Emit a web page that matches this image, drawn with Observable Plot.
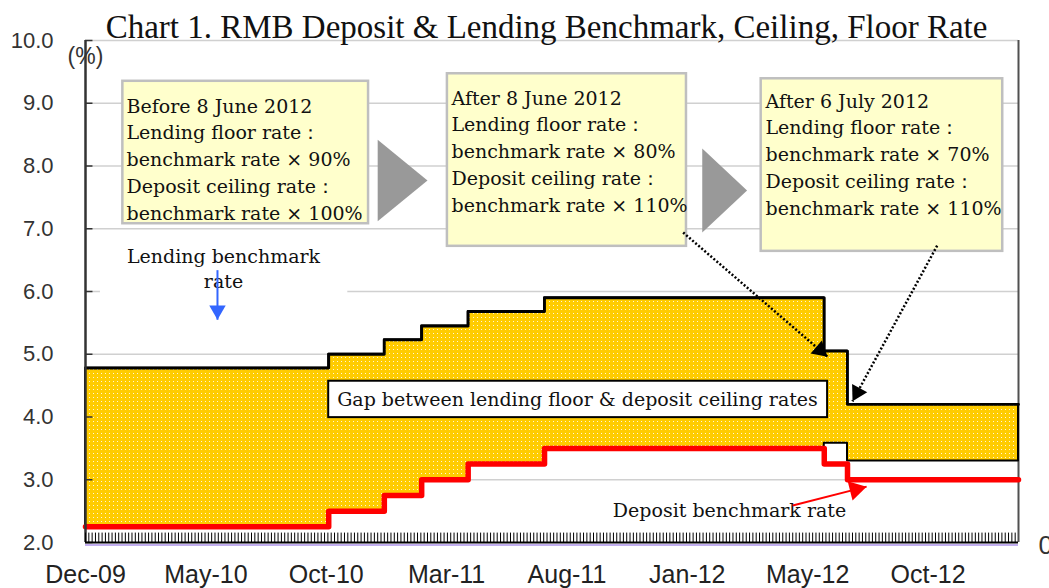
<!DOCTYPE html>
<html><head><meta charset="utf-8">
<script src="https://cdn.jsdelivr.net/npm/d3@7"></script>
<script src="https://cdn.jsdelivr.net/npm/@observablehq/plot@0.6"></script>
<style>
html,body{margin:0;padding:0;background:#fff;}
#chart svg{display:block;}
</style>
</head><body>
<div id="chart"></div>
<script>
// ---- Data (rate change dates, %)
const changeDates = ["2009-12-31","2010-10-20","2010-12-26","2011-02-09","2011-04-06","2011-07-07","2012-06-08","2012-07-06","2013-01-28"];
const lendingFloor = [4.78, 5.00, 5.23, 5.45, 5.68, 5.90, 5.05, 4.20, 4.20];
const depositCeiling = [2.25, 2.50, 2.75, 3.00, 3.25, 3.50, 3.58, 3.30, 3.30];
const depositBenchmark = [2.25, 2.50, 2.75, 3.00, 3.25, 3.50, 3.25, 3.00, 3.00];
const yTicks = [2, 3, 4, 5, 6, 7, 8, 9, 10];
const xTickLabels = ["Dec-09","May-10","Oct-10","Mar-11","Aug-11","Jan-12","May-12","Oct-12"];
const xTickDates = ["2009-12-31","2010-05-25","2010-10-17","2011-03-11","2011-08-03","2011-12-26","2012-05-19","2012-10-11"];

const start = new Date(changeDates[0]);
const end = new Date(changeDates[changeDates.length - 1]);
const rows = changeDates.map((d, i) => ({date: new Date(d), floor: lendingFloor[i], ceiling: depositCeiling[i], deposit: depositBenchmark[i]}));
const xLabelRows = xTickDates.map((d, i) => ({date: new Date(d), label: xTickLabels[i]}));
const minorTicks = d3.utcDay.range(start, end, 4);

// ---- Annotations (data coordinates)
const D = s => new Date(s);
const noteBoxes = [
  {x1: D("2010-02-14"), x2: D("2010-12-07"), y1: 7.08, y2: 9.35},
  {x1: D("2011-03-12"), x2: D("2011-12-25"), y1: 6.72, y2: 9.47},
  {x1: D("2012-03-24"), x2: D("2013-01-09"), y1: 6.64, y2: 9.39}
];
const lendBox = [{x1: D("2010-01-18"), x2: D("2010-11-12"), y1: 5.89, y2: 6.89}];
const gapBox = [{x1: D("2010-10-20"), x2: D("2012-06-12"), y1: 3.99, y2: 4.57}];
const chevrons = [
  {id: 1, x: D("2010-12-18"), y: 8.42}, {id: 1, x: D("2011-02-16"), y: 7.77}, {id: 1, x: D("2010-12-18"), y: 7.12},
  {id: 2, x: D("2012-01-13"), y: 8.28}, {id: 2, x: D("2012-03-07"), y: 7.61}, {id: 2, x: D("2012-01-13"), y: 6.94}
];
const dottedArrows = [
  {x1: D("2011-12-21"), y1: 6.94, x2: D("2012-06-12"), y2: 4.96},
  {x1: D("2012-10-22"), y1: 6.73, x2: D("2012-07-12"), y2: 4.25}
];
const redArrow = [{x1: D("2012-05-01"), y1: 2.59, x2: D("2012-07-29"), y2: 2.89}];
const blueArrow = [{x1: D("2010-06-08"), y1: 6.34, x2: D("2010-06-08"), y2: 5.55}];

const note1 = "Before 8 June 2012\nLending floor rate：\nbenchmark rate × 90%\nDeposit ceiling rate：\nbenchmark rate × 100%";
const note2 = "After 8 June 2012\nLending floor rate：\nbenchmark rate × 80%\nDeposit ceiling rate：\nbenchmark rate × 110%";
const note3 = "After 6 July 2012\nLending floor rate：\nbenchmark rate × 70%\nDeposit ceiling rate：\nbenchmark rate × 110%";

const serif = "DejaVu Serif";
const T = (str, o) => Plot.text([str], {text: d => d, frameAnchor: "top-left", fontFamily: serif, fontSize: 19, fill: "#111", ...o});
const head = (arr, o) => Plot.dot(arr, {x: "x2", y: "y2", symbol: "triangle", stroke: "none", ...o});

const chart = Plot.plot({
  width: 1049, height: 588,
  marginLeft: 85, marginRight: 31, marginTop: 40, marginBottom: 46,
  style: {fontFamily: "Liberation Sans", background: "#fff", overflow: "visible"},
  x: {type: "utc", domain: [start, end], axis: null},
  y: {domain: [2, 10], axis: null},
  marks: [
    Plot.ruleY(yTicks.filter(v => v > 2), {stroke: "#d0d0d0", strokeWidth: 1.5}),
    Plot.ruleX([end], {stroke: "#505050", strokeWidth: 2}),
    Plot.rect(lendBox, {x1: "x1", x2: "x2", y1: "y1", y2: "y2", fill: "#fff"}),
    // gap area
    Plot.areaY(rows, {x: "date", y1: "ceiling", y2: "floor", curve: "step-after", fill: "#FFCC00"}),
    Plot.areaY(rows, {x: "date", y1: "ceiling", y2: "floor", curve: "step-after", fill: "url(#dots)"}),
    Plot.areaY(rows, {x: "date", y1: "ceiling", y2: "floor", curve: "step-after", fill: "none", stroke: "#000", strokeWidth: 2}),
    Plot.line(rows, {x: "date", y: "floor", curve: "step-after", stroke: "#000", strokeWidth: 2.8}),
    Plot.line(rows, {x: "date", y: "deposit", curve: "step-after", stroke: "#FF0000", strokeWidth: 5.5}),
    // axes
    Plot.ruleX([start], {stroke: "#333", strokeWidth: 2.5}),
    Plot.ruleY(yTicks, {x1: start, x2: d3.utcDay.offset(start, 9), stroke: "#333", strokeWidth: 1.5}),
    Plot.ruleX(minorTicks, {y1: 2, y2: 2.15, stroke: "#000", strokeWidth: 1}),
    Plot.ruleY([2], {stroke: "#000", strokeWidth: 2}),
    Plot.ruleY([2], {stroke: "#c2aef0", strokeWidth: 2, dy: 2.5}),
    Plot.text(yTicks, {y: d => d, text: d => d.toFixed(1), frameAnchor: "left", textAnchor: "end", dx: -32, fontSize: 22, fill: "#333"}),
    Plot.text(xLabelRows, {x: "date", text: "label", frameAnchor: "bottom", dy: 40, fontSize: 25, fill: "#222"}),
    // note boxes
    Plot.rect(noteBoxes, {x1: "x1", x2: "x2", y1: "y1", y2: "y2", fill: "#FFFFCC", stroke: "#BFBFBF", strokeWidth: 2.5}),
    Plot.line(chevrons, {x: "x", y: "y", z: "id", fill: "#999999", stroke: "none"}),
    T(note1, {dx: 41, dy: 53, lineAnchor: "top", lineHeight: 1.41}),
    T(note2, {dx: 366, dy: 45, lineAnchor: "top", lineHeight: 1.41}),
    T(note3, {dx: 680, dy: 48, lineAnchor: "top", lineHeight: 1.41}),
    // lending benchmark label
    T("Lending benchmark\nrate", {dx: 138, dy: 205, textAnchor: "middle", lineAnchor: "top", lineHeight: 1.32}),
    Plot.link(blueArrow, {x1: "x1", y1: "y1", x2: "x2", y2: "y2", stroke: "#3366FF", strokeWidth: 2}),
    head(blueArrow, {r: 6.1, rotate: 180, dy: -9.5, fill: "#3366FF"}),
    // gap label
    Plot.rect(gapBox, {x1: "x1", x2: "x2", y1: "y1", y2: "y2", fill: "#fff", stroke: "#000", strokeWidth: 2}),
    T("Gap between lending floor & deposit ceiling rates", {dx: 492, dy: 359, textAnchor: "middle", lineAnchor: "middle"}),
    // dotted arrows
    Plot.link(dottedArrows, {x1: "x1", y1: "y1", x2: "x2", y2: "y2", stroke: "#000", strokeWidth: 2.5, strokeDasharray: "2,2"}),
    head([dottedArrows[0]], {r: 6.4, rotate: 130.7, dx: -7.6, dy: -6.5, fill: "#000"}),
    head([dottedArrows[1]], {r: 6.4, rotate: 208.6, dx: 4.8, dy: -8.8, fill: "#000"}),
    // deposit label + red arrow
    T("Deposit benchmark rate", {dx: 644, dy: 470, textAnchor: "middle", lineAnchor: "middle"}),
    Plot.link(redArrow, {x1: "x1", y1: "y1", x2: "x2", y2: "y2", stroke: "#FF0000", strokeWidth: 2}),
    head(redArrow, {r: 7.3, rotate: 75.6, dx: -11, dy: 2.8, fill: "#FF0000"}),
    // title & unit
    T("Chart 1. RMB Deposit & Lending Benchmark, Ceiling, Floor Rate", {dx: 461, dy: -3, textAnchor: "middle", lineAnchor: "bottom", fontFamily: "Liberation Serif", fontSize: 33}),
    Plot.text(["(%)"], {text: d => d, frameAnchor: "top-left", dx: 0, dy: 16, textAnchor: "middle", lineAnchor: "middle", fontSize: 23, fill: "#333"}),
    Plot.text(["0"], {text: d => d, frameAnchor: "top-left", dx: 953, dy: 505, textAnchor: "start", lineAnchor: "middle", fontSize: 26, fill: "#333"})
  ]
});

// dotted texture for the gap area
const defs = d3.select(chart).insert("defs", ":first-child");
const pat = defs.append("pattern").attr("id", "dots").attr("width", 4).attr("height", 4).attr("patternUnits", "userSpaceOnUse");
pat.append("rect").attr("x", 1).attr("y", 1).attr("width", 1).attr("height", 1).attr("fill", "#fff").attr("fill-opacity", 0.85);

document.getElementById("chart").appendChild(chart);
</script>
</body></html>
